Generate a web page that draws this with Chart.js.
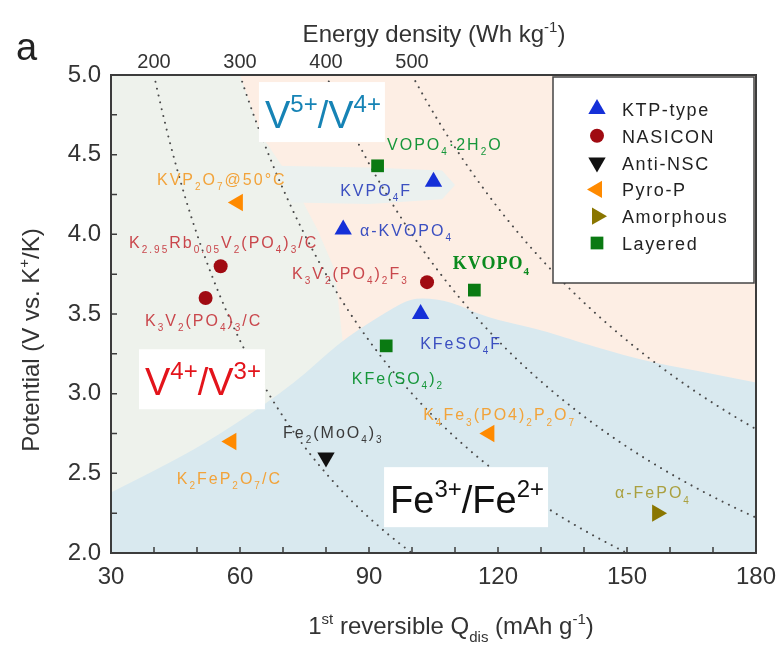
<!DOCTYPE html>
<html>
<head>
<meta charset="utf-8">
<script src="https://cdn.jsdelivr.net/npm/chart.js@4.4.1/dist/chart.umd.min.js"></script>
<style>
  html, body { margin: 0; padding: 0; background: #fff; }
</style>
</head>
<body>
<canvas id="chart" width="781" height="646"></canvas>
<script>
// first reversible capacity (mAh/g) and average potential (V vs K+/K), per structure family
const ktpQ = [105, 84, 102];
const ktpV = [4.33, 4.03, 3.5];
const nasiconQ = [55.5, 52, 103.5];
const nasiconV = [3.8, 3.6, 3.7];
const antiNscQ = [80];
const antiNscV = [2.6];
const pyroQ = [59.5, 58, 118];
const pyroV = [4.2, 2.7, 2.75];
const amorphousQ = [157];
const amorphousV = [2.25];
const layeredQ = [92, 114.5, 94];
const layeredV = [4.43, 3.65, 3.3];

const familyNames = ['KTP-type', 'NASICON', 'Anti-NSC', 'Pyro-P', 'Amorphous', 'Layered'];

// iso-energy guides in Wh/kg; top axis ticks sit where they cross the 5.0 V edge
const energyTicks = [200, 300, 400, 500];
const topVoltage = 5.0;

// compound names (markup: _{sub} ^{sup}), left anchor in data units, family index
const labelText = [
  'KVP_{2}O_{7}@50°C',
  'K_{2.95}Rb_{0.05}V_{2}(PO_{4})_{3}/C',
  'K_{3}V_{2}(PO_{4})_{3}/C',
  'VOPO_{4}·2H_{2}O',
  'KVPO_{4}F',
  'α-KVOPO_{4}',
  'K_{3}V_{2}(PO_{4})_{2}F_{3}',
  'KVOPO_{4}',
  'KFeSO_{4}F',
  'KFe(SO_{4})_{2}',
  'Fe_{2}(MoO_{4})_{3}',
  'K_{2}FeP_{2}O_{7}/C',
  'K_{4}Fe_{3}(PO4)_{2}P_{2}O_{7}',
  'α-FePO_{4}',
];
const labelQ = [40.7, 34.2, 37.9, 94.2, 83.3, 87.9, 72.1, 109.5, 101.9, 86, 70, 45.3, 102.6, 147.2];
const labelV = [4.35, 3.95, 3.46, 4.57, 4.28, 4.03, 3.76, 3.82, 3.32, 3.10, 2.76, 2.47, 2.87, 2.38];
const labelFamily = [3, 1, 1, 5, 0, 0, 1, 5, 0, 5, 2, 3, 3, 4];
const labelSerif = [false, false, false, false, false, false, false, true, false, false, false, false, false, false];

// redox regions, outlines in data units
const peachQ = [60, 65, 72, 78, 82, 84, 180, 180];
const peachV = [5.0, 4.62, 4.34, 4.03, 3.78, 3.3, 3.0, 5.0];
const tongueQ = [68, 90, 107, 110, 107, 90, 72];
const tongueV = [4.43, 4.42, 4.40, 4.31, 4.22, 4.19, 4.2];
const blueQ = [30, 45, 58, 73, 83, 92, 99, 103, 109, 117, 130, 137, 153, 167, 180];
const blueV = [2.38, 2.58, 2.79, 3.07, 3.32, 3.48, 3.59, 3.6, 3.58, 3.48, 3.40, 3.34, 3.21, 3.14, 3.07];

const regionText = ['V^{5+}/V^{4+}', 'V^{4+}/V^{3+}', 'Fe^{3+}/Fe^{2+}'];
const regionQ = [65.8, 37.9, 94.9];
const regionV = [4.667, 2.99, 2.25];
const regionColor = ['#1683b5', '#e3141b', '#111111'];

const markerColor = ['#1530d8', '#a00b12', '#111111', '#ff8a00', '#8a7600', '#0a7a12'];
const labelColor = ['#3b4fc0', '#c9474c', '#3a3a3a', '#f2a33a', '#aaa040', '#16963a'];
const markerStyle = [
  { pointStyle: 'triangle', rotation: 0, radius: 10 },
  { pointStyle: 'circle', rotation: 0, radius: 7 },
  { pointStyle: 'triangle', rotation: 180, radius: 10 },
  { pointStyle: 'triangle', rotation: 270, radius: 10 },
  { pointStyle: 'triangle', rotation: 90, radius: 10 },
  { pointStyle: 'rect', rotation: 0, radius: 9 },
];

const SANS = '"Liberation Sans", Arial, sans-serif';
const SERIF = '"Liberation Serif", "Times New Roman", serif';

const toPoints = (qs, vs) => qs.map((q, i) => ({ x: q, y: vs[i] }));
const seriesQ = [ktpQ, nasiconQ, antiNscQ, pyroQ, amorphousQ, layeredQ];
const seriesV = [ktpV, nasiconV, antiNscV, pyroV, amorphousV, layeredV];

// splits "K_{3}V^{2+}" into normal / sub / sup runs
const parseRich = (str) => {
  const parts = [];
  const re = /([_^])\{([^}]*)\}/g;
  let last = 0;
  let m;
  while ((m = re.exec(str))) {
    if (m.index > last) parts.push({ t: str.slice(last, m.index), k: 'n' });
    parts.push({ t: m[2], k: m[1] === '_' ? 'sub' : 'sup' });
    last = re.lastIndex;
  }
  if (last < str.length) parts.push({ t: str.slice(last), k: 'n' });
  return parts;
};

const drawRich = (ctx, str, x, y, o, measureOnly) => {
  const parts = parseRich(str);
  const small = Math.round(o.size * (o.scriptScale || 0.62));
  const font = (s) => `${o.weight || 'normal'} ${s}px ${o.family || SANS}`;
  ctx.save();
  ctx.textBaseline = 'alphabetic';
  ctx.textAlign = 'left';
  ctx.letterSpacing = (o.spacing || 0) + 'px';
  let total = 0;
  const widths = parts.map((p) => {
    ctx.font = font(p.k === 'n' ? o.size : small);
    const w = ctx.measureText(p.t).width;
    total += w;
    return w;
  });
  if (!measureOnly) {
    ctx.fillStyle = o.color;
    let cx = o.align === 'center' ? x - total / 2 : x;
    parts.forEach((p, i) => {
      ctx.font = font(p.k === 'n' ? o.size : small);
      let dy = 0;
      if (p.k === 'sub') dy = o.size * 0.32;
      if (p.k === 'sup') dy = -o.size * 0.42;
      ctx.fillText(p.t, cx, y + dy);
      cx += widths[i];
    });
  }
  ctx.restore();
  return total;
};

const polyPath = (ctx, xs, ys, qs, vs) => {
  ctx.beginPath();
  qs.forEach((q, i) => {
    const px = xs.getPixelForValue(q);
    const py = ys.getPixelForValue(vs[i]);
    if (i === 0) ctx.moveTo(px, py);
    else ctx.lineTo(px, py);
  });
};

// smooth outline through the boundary points, closed down to the bottom edge
const smoothToBottom = (ctx, xs, ys, qs, vs, bottom) => {
  const pts = qs.map((q, i) => [xs.getPixelForValue(q), ys.getPixelForValue(vs[i])]);
  ctx.beginPath();
  ctx.moveTo(pts[0][0], bottom);
  ctx.lineTo(pts[0][0], pts[0][1]);
  for (let i = 1; i < pts.length - 1; i++) {
    const mx = (pts[i][0] + pts[i + 1][0]) / 2;
    const my = (pts[i][1] + pts[i + 1][1]) / 2;
    ctx.quadraticCurveTo(pts[i][0], pts[i][1], mx, my);
  }
  const lastPt = pts[pts.length - 1];
  ctx.lineTo(lastPt[0], lastPt[1]);
  ctx.lineTo(lastPt[0], bottom);
  ctx.closePath();
};

const backdrop = {
  id: 'backdrop',
  beforeDatasetsDraw(chart) {
    const { ctx, chartArea: a, scales: { x, y } } = chart;
    ctx.save();
    ctx.beginPath();
    ctx.rect(a.left, a.top, a.width, a.height);
    ctx.clip();

    ctx.fillStyle = '#eef2ec';
    ctx.fillRect(a.left, a.top, a.width, a.height);

    ctx.fillStyle = '#fdeee4';
    polyPath(ctx, x, y, peachQ, peachV);
    ctx.closePath();
    ctx.fill();

    ctx.fillStyle = '#ebf1ef';
    polyPath(ctx, x, y, tongueQ, tongueV);
    ctx.closePath();
    ctx.fill();

    ctx.fillStyle = '#d9e9ef';
    smoothToBottom(ctx, x, y, blueQ, blueV, a.bottom + 2);
    ctx.fill();

    // dotted iso-energy curves, V = E / Q
    ctx.strokeStyle = '#4a4a4a';
    ctx.lineWidth = 2;
    ctx.lineCap = 'round';
    ctx.setLineDash([0.01, 7]);
    energyTicks.forEach((e) => {
      const qStart = Math.max(x.min, e / y.max);
      const qEnd = Math.min(x.max, e / y.min);
      ctx.beginPath();
      for (let k = 0; k <= 200; k++) {
        const q = qStart + ((qEnd - qStart) * k) / 200;
        const px = x.getPixelForValue(q);
        const py = y.getPixelForValue(e / q);
        if (k === 0) ctx.moveTo(px, py);
        else ctx.lineTo(px, py);
      }
      ctx.stroke();
    });
    ctx.setLineDash([]);

    // region names on white boxes
    regionText.forEach((t, i) => {
      const px = x.getPixelForValue(regionQ[i]);
      const py = y.getPixelForValue(regionV[i]);
      const style = { size: 38, color: regionColor[i] };
      const w = drawRich(ctx, t, px, py, style, true);
      ctx.fillStyle = '#ffffff';
      ctx.fillRect(px - 6, py - 46, w + 10, 60);
      drawRich(ctx, t, px, py, style);
    });

    // compound names
    labelText.forEach((t, i) => {
      const px = x.getPixelForValue(labelQ[i]);
      const py = y.getPixelForValue(labelV[i]) + 6;
      const style = labelSerif[i]
        ? { size: 18, family: SERIF, weight: 'bold', spacing: 1, color: '#0b8a1e' }
        : { size: 16, spacing: 2, color: labelColor[labelFamily[i]] };
      drawRich(ctx, t, px, py, style);
    });
    ctx.restore();
  },
  afterDatasetsDraw(chart) {
    const { ctx, chartArea: a, scales: { x, y } } = chart;
    ctx.save();
    ctx.strokeStyle = '#3c3c3c';
    ctx.lineWidth = 2;
    ctx.strokeRect(a.left, a.top, a.width, a.height);

    // inward tick marks
    ctx.lineWidth = 1.5;
    ctx.beginPath();
    x.ticks.forEach((t) => {
      const px = x.getPixelForValue(t.value);
      ctx.moveTo(px, a.bottom);
      ctx.lineTo(px, a.bottom - 6);
    });
    y.ticks.forEach((t) => {
      const py = y.getPixelForValue(t.value);
      ctx.moveTo(a.left, py);
      ctx.lineTo(a.left + 6, py);
    });
    ctx.stroke();

    // legend box
    const lx = a.right - 203;
    const ly = a.top + 2;
    ctx.fillStyle = '#ffffff';
    ctx.fillRect(lx, ly, 201, 206);
    ctx.strokeStyle = '#444';
    ctx.lineWidth = 1.5;
    ctx.strokeRect(lx, ly, 201, 206);
    familyNames.forEach((name, i) => {
      const cy = ly + 32 + i * 26.8;
      ctx.fillStyle = markerColor[i];
      ctx.strokeStyle = markerColor[i];
      Chart.helpers.drawPoint(ctx, { ...markerStyle[i], borderWidth: 0 }, lx + 44, cy);
      drawRich(ctx, name, lx + 69, cy + 7, { size: 18, spacing: 1.6, color: '#222' });
    });

    // axis titles and panel letter
    drawRich(ctx, 'Energy density (Wh kg^{-1})', 434, 42, { size: 24, color: '#333', align: 'center' });
    drawRich(ctx, '1^{st} reversible Q_{dis} (mAh g^{-1})', 451, 634, { size: 24, color: '#333', align: 'center' });
    ctx.translate(39, 340);
    ctx.rotate(-Math.PI / 2);
    drawRich(ctx, 'Potential (V vs. K^{+}/K)', 0, 0, { size: 24, color: '#333', align: 'center' });
    ctx.restore();
    drawRich(ctx, 'a', 16, 60, { size: 38, color: '#222' });
  },
};

const datasets = familyNames.map((name, i) => ({
  label: name,
  data: toPoints(seriesQ[i], seriesV[i]),
  pointStyle: markerStyle[i].pointStyle,
  rotation: markerStyle[i].rotation,
  pointRadius: markerStyle[i].radius,
  backgroundColor: markerColor[i],
  borderColor: markerColor[i],
  borderWidth: 0,
}));

const tickFont = { size: 24, family: SANS };

// horizontal axes: fixed height, no extra side padding for the end labels
const fitHorizontal = (height) => (s) => {
  s.height = height;
  s.paddingLeft = 0;
  s.paddingRight = 0;
};

new Chart(document.getElementById('chart'), {
  type: 'scatter',
  plugins: [backdrop],
  data: { datasets },
  options: {
    responsive: false,
    animation: false,
    layout: { padding: { left: 0, right: 25, top: 0, bottom: 0 } },
    plugins: {
      legend: { display: false },
      tooltip: { enabled: false },
    },
    scales: {
      x: {
        type: 'linear',
        position: 'bottom',
        min: 30,
        max: 180,
        ticks: {
          stepSize: 10,
          autoSkip: false,
          maxRotation: 0,
          padding: 10,
          color: '#333',
          font: tickFont,
          callback: (v) => (v % 30 === 0 ? String(v) : ''),
        },
        grid: { display: false, drawTicks: false },
        border: { display: false },
        afterFit: fitHorizontal(93),
      },
      x2: {
        type: 'linear',
        position: 'top',
        min: 30,
        max: 180,
        afterBuildTicks: (s) => {
          s.ticks = energyTicks.map((e) => ({ value: e / topVoltage }));
        },
        ticks: {
          autoSkip: false,
          maxRotation: 0,
          padding: 1,
          color: '#333',
          font: { size: 20, family: SANS },
          callback: (v) => String(Math.round(v * topVoltage)),
        },
        grid: { display: false, drawTicks: false },
        border: { display: false },
        afterFit: fitHorizontal(75),
      },
      y: {
        min: 2,
        max: 5,
        ticks: {
          stepSize: 0.25,
          autoSkip: false,
          padding: 10,
          color: '#333',
          font: tickFont,
          callback: (v) => (Math.abs(v * 2 - Math.round(v * 2)) < 1e-6 ? v.toFixed(1) : ''),
        },
        grid: { display: false, drawTicks: false },
        border: { display: false },
        afterFit: (s) => {
          s.width = 111;
          s.paddingTop = 0;
          s.paddingBottom = 0;
        },
      },
    },
  },
});
</script>
</body>
</html>
